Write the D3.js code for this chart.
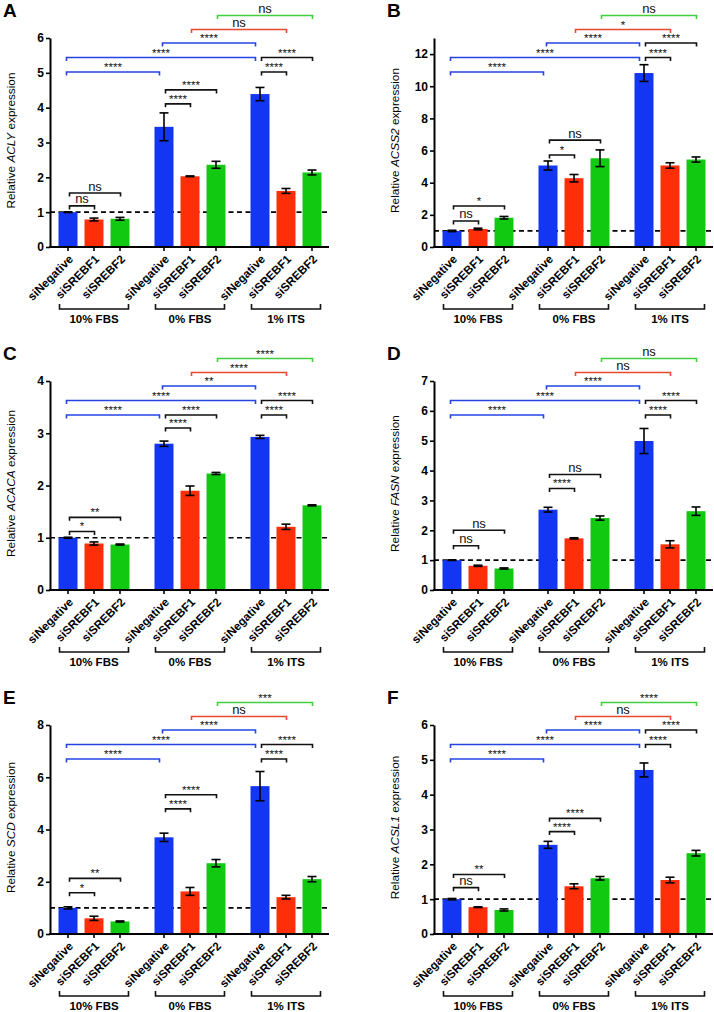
<!DOCTYPE html>
<html><head><meta charset="utf-8">
<script src="https://cdn.jsdelivr.net/npm/d3@7"></script>
<style>
body{margin:0;background:#fff}
svg{display:block}
text{font-family:"Liberation Sans",Arial,Helvetica,sans-serif}
</style>
</head><body>
<svg id="chart" width="714" height="1012"></svg>
<script>
// ---------- data ----------
const groups = ["10% FBS", "0% FBS", "1% ITS"];
const conditions = ["siNegative", "siSREBF1", "siSREBF2"];
const panelLetters = ["A", "B", "C", "D", "E", "F"];
const genes = ["ACLY", "ACSS2", "ACACA", "FASN", "SCD", "ACSL1"];
const yMaxes = [6, 13, 4, 7, 8, 6];
const yTickSteps = [1, 2, 1, 1, 2, 1];

// mean relative expression, order: group x condition
const meanACLY  = [1.00, 0.79, 0.81, 3.45, 2.03, 2.36, 4.39, 1.61, 2.14];
const errACLY   = [0.01, 0.04, 0.04, 0.40, 0.01, 0.10, 0.19, 0.07, 0.07];
const meanACSS2 = [1.00, 1.12, 1.82, 5.07, 4.28, 5.52, 10.82, 5.07, 5.44];
const errACSS2  = [0.04, 0.05, 0.08, 0.28, 0.23, 0.52, 0.52, 0.17, 0.16];
const meanACACA = [1.00, 0.89, 0.87, 2.80, 1.90, 2.23, 2.93, 1.21, 1.62];
const errACACA  = [0.01, 0.03, 0.01, 0.05, 0.09, 0.02, 0.03, 0.05, 0.01];
const meanFASN  = [1.00, 0.81, 0.72, 2.69, 1.73, 2.41, 4.99, 1.53, 2.64];
const errFASN   = [0.01, 0.02, 0.02, 0.08, 0.02, 0.07, 0.42, 0.12, 0.14];
const meanSCD   = [1.00, 0.60, 0.48, 3.70, 1.63, 2.71, 5.66, 1.41, 2.10];
const errSCD    = [0.04, 0.08, 0.02, 0.16, 0.15, 0.14, 0.56, 0.07, 0.10];
const meanACSL1 = [1.00, 0.77, 0.69, 2.56, 1.37, 1.60, 4.71, 1.55, 2.32];
const errACSL1  = [0.02, 0.01, 0.03, 0.10, 0.07, 0.05, 0.20, 0.08, 0.08];

// significance comparisons: [fromBar, toBar, label, family, height (data value or stacking tier "L0".."L4")]
const sigACLY = [
  [0,1,"ns","k",1.18],[0,2,"ns","k",1.55],
  [3,4,"****","k",4.11],[3,5,"****","k",4.51],
  [6,7,"****","k","L0"],[6,8,"****","k","L1"],
  [0,3,"****","b","L0"],[0,6,"****","b","L1"],[3,6,"****","b","L2"],
  [4,7,"ns","r","L3"],[5,8,"ns","g","L4"]];
const sigACSS2 = [
  [0,1,"ns","k",1.62],[0,2,"*","k",2.55],
  [3,4,"*","k",5.72],[3,5,"ns","k",6.65],
  [6,7,"****","k","L1"],[6,8,"****","k","L2"],
  [0,3,"****","b","L0"],[0,6,"****","b","L1"],[3,6,"****","b","L2"],
  [4,7,"*","r","L3"],[5,8,"ns","g","L4"]];
const sigACACA = [
  [0,1,"*","k",1.12],[0,2,"**","k",1.39],
  [3,4,"****","k",3.10],[3,5,"****","k","L0"],
  [6,7,"****","k","L0"],[6,8,"****","k","L1"],
  [0,3,"****","b","L0"],[0,6,"****","b","L1"],[3,6,"**","b","L2"],
  [4,7,"****","r","L3"],[5,8,"****","g","L4"]];
const sigFASN = [
  [0,1,"ns","k",1.48],[0,2,"ns","k",2.00],
  [3,4,"****","k",3.40],[3,5,"ns","k",3.87],
  [6,7,"****","k","L0"],[6,8,"****","k","L1"],
  [0,3,"****","b","L0"],[0,6,"****","b","L1"],[3,6,"****","b","L2"],
  [4,7,"ns","r","L3"],[5,8,"ns","g","L4"]];
const sigSCD = [
  [0,1,"*","k",1.58],[0,2,"**","k",2.13],
  [3,4,"****","k",4.79],[3,5,"****","k",5.33],
  [6,7,"****","k","L0"],[6,8,"****","k","L1"],
  [0,3,"****","b","L0"],[0,6,"****","b","L1"],[3,6,"****","b","L2"],
  [4,7,"ns","r","L3"],[5,8,"***","g","L4"]];
const sigACSL1 = [
  [0,1,"ns","k",1.33],[0,2,"**","k",1.71],
  [3,4,"****","k",2.94],[3,5,"****","k",3.32],
  [6,7,"****","k","L1"],[6,8,"****","k","L2"],
  [0,3,"****","b","L0"],[0,6,"****","b","L1"],[3,6,"****","b","L2"],
  [4,7,"ns","r","L3"],[5,8,"****","g","L4"]];

const means = [meanACLY, meanACSS2, meanACACA, meanFASN, meanSCD, meanACSL1];
const errs  = [errACLY, errACSS2, errACACA, errFASN, errSCD, errACSL1];
const sigs  = [sigACLY, sigACSS2, sigACACA, sigFASN, sigSCD, sigACSL1];

// ---------- style / layout ----------
const barColor = d3.scaleOrdinal().domain(conditions).range(["#1236f2", "#ff2e08", "#12c912"]);
const sigColor = {k: "#111", b: "#2444e6", r: "#ec4a2e", g: "#3fcf3f"};
const colLeft = [50, 434];
const rowBase = [247, 590, 934];
const plotH = 209, plotW = 279;
const tierOffset = {L0: 34, L1: 19.5, L2: 5, L3: -8.5, L4: -22.5};

const svg = d3.select("#chart");

genes.forEach((gene, i) => {
  const col = i % 2, row = Math.floor(i / 2);
  const L = colLeft[col], B = rowBase[row], T = B - plotH;
  const g = svg.append("g");
  const yMax = yMaxes[i];

  const y = d3.scaleLinear().domain([0, yMax]).range([B, T]);
  const xG = d3.scaleBand().domain(groups).range([L + 5, L + 275]).paddingInner(0.1875).paddingOuter(0);
  const xC = d3.scaleBand().domain(conditions).range([0, xG.bandwidth()]).paddingInner(0.27).paddingOuter(0.135);
  const bw = xC.bandwidth();

  const rows = means[i].map((m, k) => ({
    grp: groups[Math.floor(k / 3)], cond: conditions[k % 3], m, e: errs[i][k]
  }));
  const cx = d => xG(d.grp) + xC(d.cond) + bw / 2;

  // reference dashed line at 1
  g.append("line")
    .attr("x1", L).attr("x2", L + plotW)
    .attr("y1", y(1)).attr("y2", y(1))
    .attr("stroke", "#000").attr("stroke-width", 1.7)
    .attr("stroke-dasharray", "5,3.5");

  // bars
  g.selectAll("rect.bar").data(rows).join("rect")
    .attr("class", "bar")
    .attr("x", d => xG(d.grp) + xC(d.cond))
    .attr("width", bw)
    .attr("y", d => y(d.m))
    .attr("height", d => y(0) - y(d.m))
    .attr("fill", d => barColor(d.cond));

  // error bars
  const eb = g.selectAll("g.err").data(rows).join("g").attr("class", "err")
    .attr("stroke", "#000").attr("stroke-width", 1.6);
  eb.append("line").attr("x1", cx).attr("x2", cx)
    .attr("y1", d => y(d.m + d.e)).attr("y2", d => y(d.m - d.e));
  eb.append("line").attr("x1", d => cx(d) - 4.5).attr("x2", d => cx(d) + 4.5)
    .attr("y1", d => y(d.m + d.e)).attr("y2", d => y(d.m + d.e));
  eb.append("line").attr("x1", d => cx(d) - 4.5).attr("x2", d => cx(d) + 4.5)
    .attr("y1", d => y(d.m - d.e)).attr("y2", d => y(d.m - d.e));

  // y axis
  const yAxis = d3.axisLeft(y)
    .tickValues(d3.range(0, yMax + 1e-9, yTickSteps[i]))
    .tickFormat(d3.format("d"))
    .tickSize(4).tickSizeOuter(0).tickPadding(2);
  const ya = g.append("g").attr("transform", `translate(${L},0)`).call(yAxis);
  ya.select(".domain").attr("stroke", "#000").attr("stroke-width", 2);
  ya.selectAll(".tick line").attr("stroke", "#000").attr("stroke-width", 1.6);
  ya.selectAll(".tick text")
    .attr("font-family", "'Liberation Sans', Arial, sans-serif")
    .attr("font-size", 12).attr("font-weight", "bold").attr("fill", "#000");

  // x axis line + ticks
  g.append("line").attr("x1", L - 1).attr("x2", L + plotW)
    .attr("y1", B).attr("y2", B).attr("stroke", "#000").attr("stroke-width", 2);
  g.selectAll("line.xt").data(rows).join("line").attr("class", "xt")
    .attr("x1", cx).attr("x2", cx).attr("y1", B).attr("y2", B + 4)
    .attr("stroke", "#000").attr("stroke-width", 1.6);
  g.selectAll("text.xl").data(rows).join("text").attr("class", "xl")
    .attr("transform", d => `translate(${cx(d) + 3},${B + 10}) rotate(-45)`)
    .attr("text-anchor", "end").attr("dy", "0.35em")
    .attr("font-size", 11.7).attr("font-weight", "bold")
    .text(d => d.cond);

  // group brackets below
  groups.forEach(gr => {
    const x1 = xG(gr) + xC(conditions[0]) + 1;
    const x2 = xG(gr) + xC(conditions[2]) + bw - 1;
    const yb = B + 62;
    g.append("path")
      .attr("d", `M${x1},${yb - 5}V${yb}H${x2}V${yb - 5}`)
      .attr("fill", "none").attr("stroke", "#111").attr("stroke-width", 1.6);
    g.append("text").attr("x", (x1 + x2) / 2).attr("y", B + 76)
      .attr("text-anchor", "middle").attr("font-size", 11.5).attr("font-weight", "bold")
      .text(gr);
  });

  // y-axis title
  const yt = g.append("text")
    .attr("transform", `translate(${L - 35},${(T + B) / 2 - 2}) rotate(-90)`)
    .attr("text-anchor", "middle").attr("font-size", 11.8);
  yt.append("tspan").text("Relative ");
  yt.append("tspan").attr("font-style", "italic").text(gene);
  yt.append("tspan").text(" expression");

  // panel letter
  g.append("text").attr("x", L - 47).attr("y", T - 21)
    .attr("font-size", 19).attr("font-weight", "bold").text(panelLetters[i]);

  // significance brackets
  sigs[i].forEach(([a, b, lab, fam, h]) => {
    const ra = rows[a], rb = rows[b];
    let x1, x2;
    if (fam === "b") { x1 = cx(ra) - 1.5; x2 = cx(rb) - 4.5; }
    else { x1 = cx(ra) + 1.5; x2 = cx(rb) + 0.5; }
    const yy = (typeof h === "string") ? T + tierOffset[h] : y(h);
    g.append("path")
      .attr("d", `M${x1},${yy + 3.5}V${yy}H${x2}V${yy + 3.5}`)
      .attr("fill", "none").attr("stroke", sigColor[fam]).attr("stroke-width", 1.6);
    const isNs = lab === "ns";
    g.append("text").attr("x", (x1 + x2) / 2)
      .attr("y", isNs ? yy - 2.5 : yy - 1)
      .attr("text-anchor", "middle")
      .attr("font-size", isNs ? 13 : 11.5)
      .attr("fill", "#111")
      .text(lab);
  });
});
</script>
</body></html>
